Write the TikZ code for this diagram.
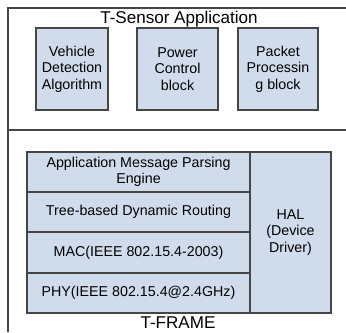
\documentclass[tikz,border=0pt]{standalone}
\usepackage{fontspec}
\setmainfont{Liberation Sans}
\usepackage{tikz}
\definecolor{blockfill}{RGB}{208,220,236}
\definecolor{edgegray}{RGB}{70,70,70}
\tikzset{
  block/.style={draw=edgegray,line width=0.9pt,fill=blockfill,align=center,
    inner sep=0pt,font=\fontsize{10.7}{12.3}\selectfont},
  frameline/.style={draw=edgegray,line width=1pt},
  caption/.style={font=\fontsize{12.8}{14}\selectfont,inner sep=0pt}
}

\begin{document}
\begin{tikzpicture}[x=0.75pt,y=-0.75pt]
        \useasboundingbox (0,0) rectangle (346,332);

        % outer frame and divider
        \coordinate (fl) at (8,332);
        \coordinate (tl) at (8,8);
        \coordinate (tr) at (346,8);
        \coordinate (ml) at (8,130);
        \coordinate (mr) at (346,130);
        \draw[frameline] (fl) -- (tl) -- (tr);
        \draw[frameline] (ml) -- (mr);

        % application part
        \node[caption] (app) at (179,19) {T-Sensor Application};
        \node[block,minimum width=54pt,minimum height=61.5pt] (vda) at (72,69)
          {Vehicle\\Detection\\Algorithm};
        \node[block,minimum width=60.75pt,minimum height=61.5pt] (pcb) at (177.5,69)
          {Power\\Control\\block};
        \node[block,minimum width=60pt,minimum height=61.5pt] (ppb) at (278,69)
          {Packet\\Processin\\g block};

        % framework stack
        \node[block,minimum width=167.25pt,minimum height=30pt] (amp) at (138.5,172)
          {Application Message Parsing\\Engine};
        \node[block,minimum width=167.25pt,minimum height=30pt] (tdr) at (138.5,212)
          {Tree-based Dynamic Routing};
        \node[block,minimum width=167.25pt,minimum height=30.75pt] (mac) at (138.5,252.5)
          {MAC(IEEE 802.15.4-2003)};
        \node[block,minimum width=167.25pt,minimum height=30pt] (phy) at (138.5,293)
          {PHY(IEEE 802.15.4@2.4GHz)};
        \node[block,minimum width=60.75pt,minimum height=120.75pt] (hal) at (290.5,232.5)
          {HAL\\(Device\\Driver)};
        \node[caption] (tf) at (178,323) {T-FRAME};
      \end{tikzpicture}
\end{document}
